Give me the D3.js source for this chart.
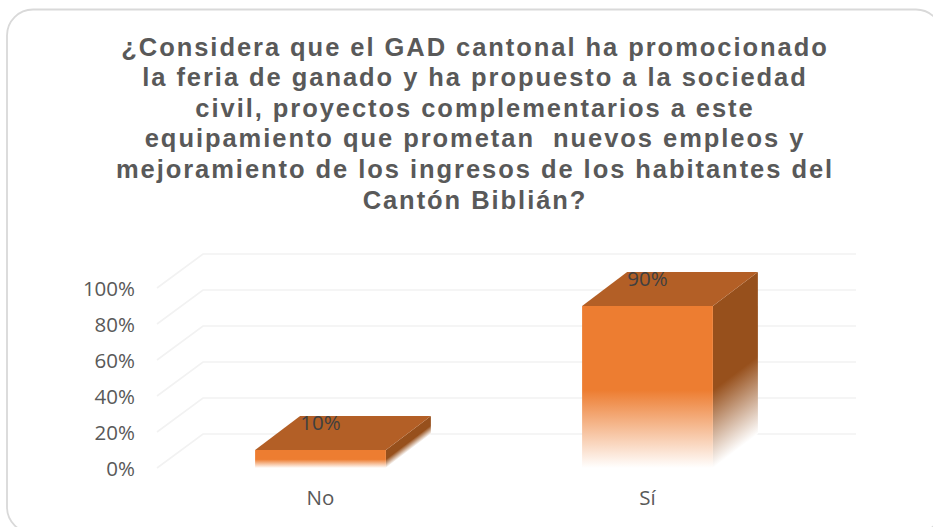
<!DOCTYPE html>
<html>
<head>
<meta charset="utf-8">
<script src="https://cdnjs.cloudflare.com/ajax/libs/d3/7.8.5/d3.min.js"></script>
<style>
html,body{margin:0;padding:0;background:#fff;overflow:hidden}
svg{display:block}
</style>
</head>
<body>
<div class="canvas"></div>
<script>
const categories=["No","Sí"];
const values=[10,90];
const yTicks=[0,20,40,60,80,100];
const titleLines=[
  "¿Considera que el GAD cantonal ha promocionado",
  "la feria de ganado y ha propuesto a la sociedad",
  "civil, proyectos complementarios a este",
  "equipamiento que prometan  nuevos empleos y",
  "mejoramiento de los ingresos de los habitantes del",
  "Cantón Biblián?"
];

const canvasWidth=933,
canvasHeight=527,
depthX=45,
depthY=34,
labelFont="'Open Sans', sans-serif";

const xScale=d3.scaleBand()
  .domain(categories)
  .range([157,811])
  .paddingInner(0.6)
  .paddingOuter(0.3);

const yScale=d3.scaleLinear()
  .domain([0,100])
  .range([468,288]);

const CANVAS=d3.select(".canvas")
  .append("svg")
  .attr("width",canvasWidth)
  .attr("height",canvasHeight)
  .style("background-color","white");

// fade to white at the foot of the bars
const defs=CANVAS.append("defs");
function fade(id,color){
  const g=defs.append("linearGradient")
    .attr("id",id)
    .attr("x1",0).attr("y1",0)
    .attr("x2",0).attr("y2",1);
  g.append("stop").attr("offset","52%").attr("stop-color",color);
  g.append("stop").attr("offset","100%").attr("stop-color","#fff");
}
fade("frontFade","#ED7D31");
fade("sideFade","#97501C");

// chart frame
CANVAS.append("rect")
  .attr("x",7).attr("y",9.5)
  .attr("width",935).attr("height",523.5)
  .attr("rx",26)
  .attr("fill","#fff")
  .attr("stroke","#D9D9D9")
  .attr("stroke-width",1.8);

CANVAS.append("g")
  .attr("id","title")
  .selectAll("text")
  .data(titleLines)
  .enter()
  .append("text")
  .attr("x",475)
  .attr("y",(d,i)=>55.5+i*30.6)
  .attr("text-anchor","middle")
  .attr("xml:space","preserve")
  .style("white-space","pre")
  .style("font-family","'Liberation Sans', Arial, sans-serif")
  .style("font-weight","bold")
  .style("font-size","25.5px")
  .style("letter-spacing","1.95px")
  .style("fill","#595959")
  .text(d=>d);

// grid: floor edge plus back wall
const grid=CANVAS.append("g").attr("id","grid");
const gridLine=d3.line();
grid.selectAll("path")
  .data(yTicks)
  .enter()
  .append("path")
  .attr("d",d=>gridLine([
    [xScale.range()[0],yScale(d)],
    [xScale.range()[0]+depthX+1,yScale(d)-depthY],
    [xScale.range()[1]+depthX,yScale(d)-depthY]
  ]))
  .attr("fill","none")
  .attr("stroke","#F2F2F2")
  .attr("stroke-width",1.6);

const yAxis=d3.axisLeft(yScale)
  .tickValues(yTicks)
  .tickFormat(d=>d+"%")
  .tickSize(0)
  .tickPadding(0);

const xAxis=d3.axisBottom(xScale)
  .tickSize(0)
  .tickPadding(22);

const gY=CANVAS.append("g")
  .attr("id","y-axis")
  .attr("transform","translate(135,1)")
  .call(yAxis);

const gX=CANVAS.append("g")
  .attr("id","x-axis")
  .attr("transform",`translate(0,${yScale(0)})`)
  .call(xAxis);

[gY,gX].forEach(g=>{
  g.select(".domain").remove();
  g.selectAll("text")
    .style("font-family",labelFont)
    .style("font-size","20.5px")
    .style("fill","#595959");
});

const bars=CANVAS.selectAll(".bar")
  .data(categories.map((c,i)=>({c:c,v:values[i]})))
  .enter()
  .append("g")
  .attr("class","bar");

// side face: skewed rect so the fade follows the depth direction
bars.append("rect")
  .attr("x",0)
  .attr("y",0)
  .attr("width",depthX)
  .attr("height",d=>yScale(0)-yScale(d.v))
  .attr("transform",d=>`translate(${xScale(d.c)+xScale.bandwidth()},${yScale(d.v)}) skewY(${-Math.atan(depthY/depthX)*180/Math.PI})`)
  .attr("fill","url(#sideFade)");

bars.append("path")
  .attr("d",d=>{
    const x0=xScale(d.c),x1=x0+xScale.bandwidth(),y=yScale(d.v);
    return d3.line()([[x0,y],[x1,y],[x1+depthX,y-depthY],[x0+depthX,y-depthY]])+"Z";
  })
  .attr("fill","#B35F26");

bars.append("rect")
  .attr("x",d=>xScale(d.c))
  .attr("y",d=>yScale(d.v))
  .attr("width",xScale.bandwidth())
  .attr("height",d=>yScale(0)-yScale(d.v))
  .attr("fill","url(#frontFade)");

bars.append("text")
  .attr("x",d=>xScale(d.c)+xScale.bandwidth()/2)
  .attr("y",d=>yScale(d.v)-27)
  .attr("dy","0.32em")
  .attr("text-anchor","middle")
  .style("font-family",labelFont)
  .style("font-size","20.5px")
  .style("fill","#404040")
  .text(d=>d.v+"%");
</script>
</body>
</html>
